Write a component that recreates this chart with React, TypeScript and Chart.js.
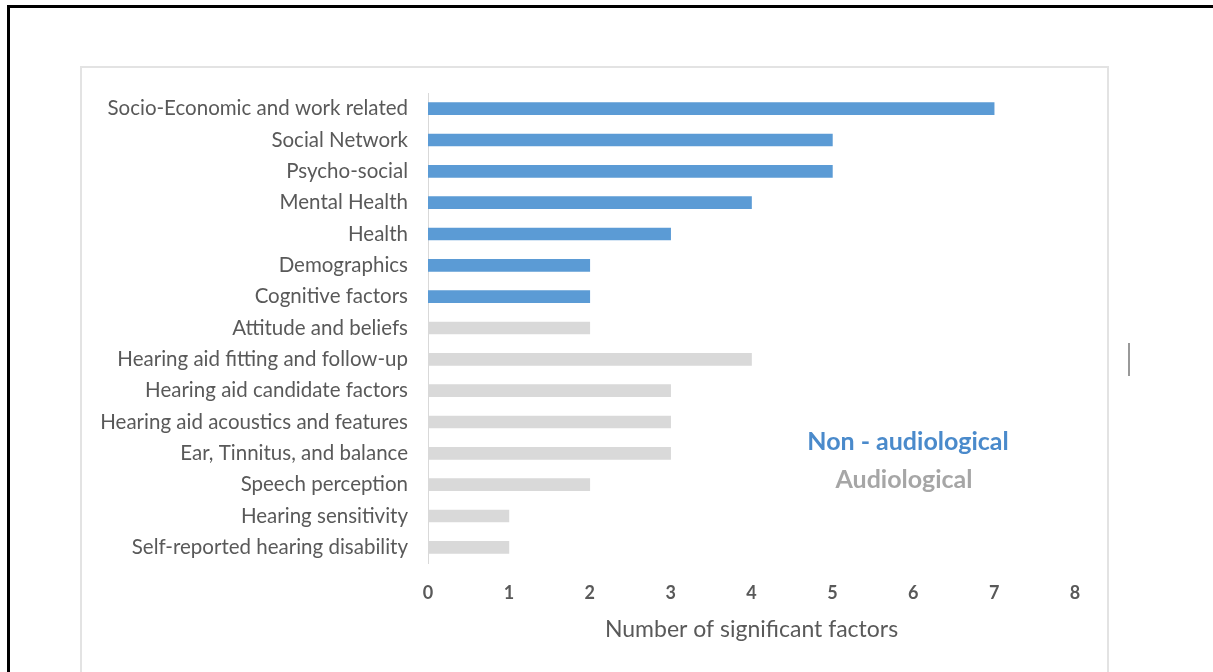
import React, { useEffect, useRef } from "react";
import { Chart, registerables } from "chart.js";

Chart.register(...registerables);

const categories = [
  "Socio-Economic and work related",
  "Social Network",
  "Psycho-social",
  "Mental Health",
  "Health",
  "Demographics",
  "Cognitive factors",
  "Attitude and beliefs",
  "Hearing aid fitting and follow-up",
  "Hearing aid candidate factors",
  "Hearing aid acoustics and features",
  "Ear, Tinnitus, and balance",
  "Speech perception",
  "Hearing sensitivity",
  "Self-reported hearing disability",
];
const values = [7, 5, 5, 4, 3, 2, 2, 2, 4, 3, 3, 3, 2, 1, 1];
const groups = [
  "non", "non", "non", "non", "non", "non", "non",
  "aud", "aud", "aud", "aud", "aud", "aud", "aud", "aud",
];
const xTicks = [0, 1, 2, 3, 4, 5, 6, 7, 8];
const legendLabels = ["Non - audiological", "Audiological"];
const xTitle = "Number of significant factors";

const BLUE = "#5B9BD5";
const GRAY = "#D9D9D9";
const FONT = "Lato, 'Open Sans', sans-serif";

export default function App() {
  const ref = useRef<HTMLCanvasElement | null>(null);

  useEffect(() => {
    if (!ref.current) return;
    const chart = new Chart(ref.current, {
      type: "bar",
      data: {
        labels: categories,
        datasets: [
          {
            data: values,
            backgroundColor: groups.map((g) => (g === "non" ? BLUE : GRAY)),
            barThickness: 12,
          },
        ],
      },
      options: {
        indexAxis: "y",
        animation: false,
        responsive: false,
        layout: { padding: { left: 0, top: 93, right: 138, bottom: 0 } },
        plugins: { legend: { display: false }, tooltip: { enabled: false } },
        scales: {
          x: {
            min: 0,
            max: 8,
            afterFit: (s: any) => {
              s.height = 109;
            },
            afterBuildTicks: (s: any) => {
              s.ticks = xTicks.map((v) => ({ value: v }));
            },
            grid: { display: false, drawTicks: false },
            border: { display: false },
            ticks: {
              padding: 19,
              color: "#595959",
              font: { family: FONT, size: 18, weight: "bold" },
            },
            title: {
              display: true,
              text: xTitle,
              color: "#595959",
              font: { family: FONT, size: 23 },
              padding: { top: 0, bottom: 29 },
            },
          },
          y: {
            afterFit: (s: any) => {
              s.width = 428;
            },
            grid: { display: false, drawTicks: false },
            border: { display: true, color: "#D9D9D9", width: 1 },
            ticks: {
              padding: 20,
              color: "#595959",
              font: { family: FONT, size: 20.5 },
            },
          },
        },
      },
    });
    return () => chart.destroy();
  }, []);

  return (
    <div
      style={{
        position: "absolute",
        left: 0,
        top: 0,
        width: 1213,
        height: 672,
        overflow: "hidden",
        background: "#fff",
      }}
    >
      <div
        style={{
          position: "absolute",
          left: 7,
          top: 5,
          width: 1300,
          height: 800,
          border: "3px solid #000",
          boxSizing: "border-box",
        }}
      />
      <div
        style={{
          position: "absolute",
          left: 80,
          top: 66,
          width: 1029,
          height: 800,
          border: "2px solid #E3E3E3",
          boxSizing: "border-box",
        }}
      />
      <div
        style={{
          position: "absolute",
          left: 1128,
          top: 343,
          width: 2,
          height: 33,
          background: "#999",
        }}
      />
      <canvas
        ref={ref}
        width={1213}
        height={672}
        style={{ position: "absolute", left: 0, top: 0, display: "block" }}
      />
      <div
        style={{
          position: "absolute",
          left: 758,
          width: 300,
          top: 424,
          textAlign: "center",
          fontFamily: FONT,
          fontWeight: "bold",
          fontSize: 25,
          lineHeight: "32px",
          color: "#4A8ACB",
        }}
      >
        {legendLabels[0]}
      </div>
      <div
        style={{
          position: "absolute",
          left: 754,
          width: 300,
          top: 462,
          textAlign: "center",
          fontFamily: FONT,
          fontWeight: "bold",
          fontSize: 25,
          lineHeight: "32px",
          color: "#A6A6A6",
        }}
      >
        {legendLabels[1]}
      </div>
    </div>
  );
}
